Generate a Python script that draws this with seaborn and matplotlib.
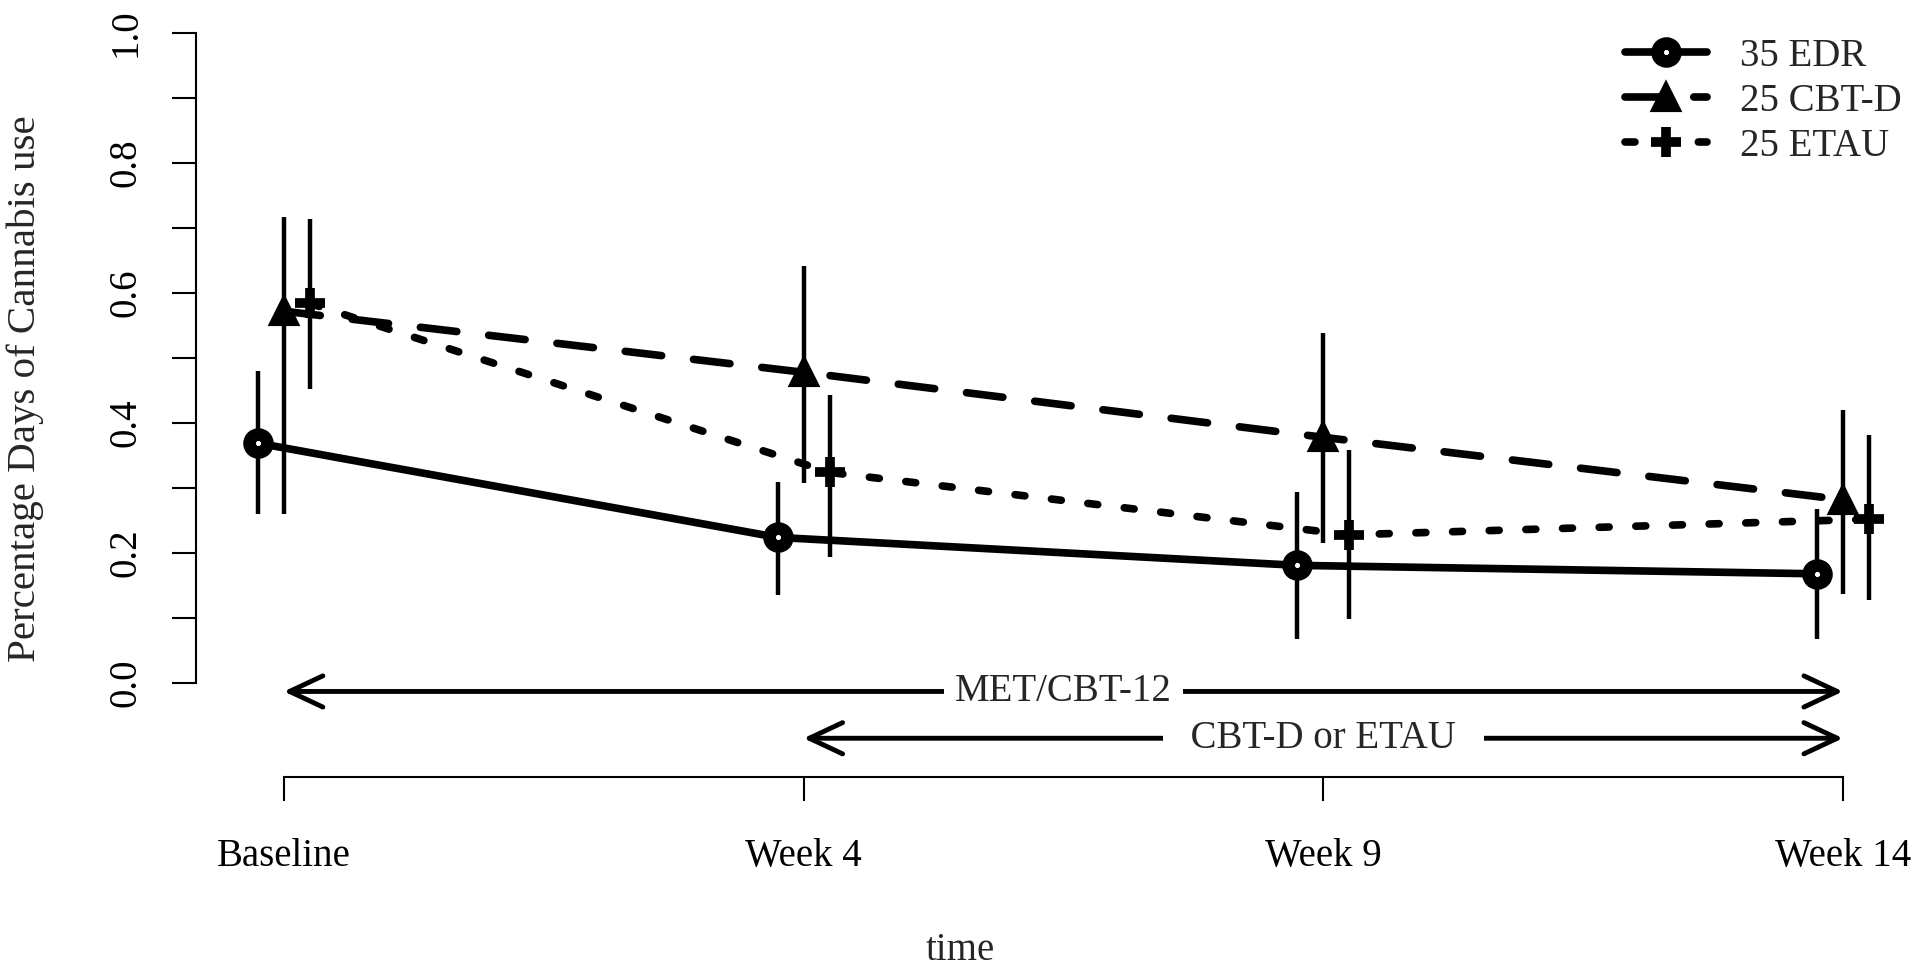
import numpy as np
import pandas as pd
import matplotlib
matplotlib.use("Agg")
import matplotlib.pyplot as plt
import seaborn as sns

# data
times = ["Baseline", "Week 4", "Week 9", "Week 14"]
groups = ["35 EDR", "25 CBT-D", "25 ETAU"]

edr_mean = [0.369, 0.224, 0.181, 0.168]
edr_lo = [0.260, 0.136, 0.068, 0.068]
edr_hi = [0.480, 0.310, 0.294, 0.267]

cbtd_mean = [0.572, 0.478, 0.378, 0.282]
cbtd_lo = [0.260, 0.307, 0.215, 0.137]
cbtd_hi = [0.717, 0.642, 0.539, 0.420]

etau_mean = [0.584, 0.324, 0.228, 0.252]
etau_lo = [0.452, 0.194, 0.098, 0.128]
etau_hi = [0.714, 0.443, 0.358, 0.382]

offsets = [-0.05, 0.0, 0.05]

rows = []
for g, m, lo, hi, off in zip(groups,
                             [edr_mean, cbtd_mean, etau_mean],
                             [edr_lo, cbtd_lo, etau_lo],
                             [edr_hi, cbtd_hi, etau_hi],
                             offsets):
    for i, t in enumerate(times):
        rows.append({"group": g, "time": t, "x": i + off,
                     "mean": m[i], "lo": lo[i], "hi": hi[i]})
df = pd.DataFrame(rows)

sns.set_style("ticks")
plt.rcParams["font.family"] = ["Liberation Serif", "DejaVu Serif"]

fig = plt.figure(figsize=(19.2, 9.73), dpi=100)
ax = fig.add_axes([0.10208, 0.19116, 0.8957, 0.80164])

styles = {
    "35 EDR": dict(linestyle="-", marker="o", markersize=13,
                   markeredgewidth=9, markerfacecolor="white"),
    "25 CBT-D": dict(linestyle=(0, (4.8, 4.2)), marker="^", markersize=19,
                     markeredgewidth=3, markerfacecolor="black"),
    "25 ETAU": dict(linestyle=(0, (1.3, 3.5)), marker="+", markersize=22,
                    markeredgewidth=7, markerfacecolor="black"),
}

for g in groups:
    sub = df[df["group"] == g]
    ax.vlines(sub["x"], sub["lo"], sub["hi"], color="black", lw=3.2)
    sns.lineplot(data=sub, x="x", y="mean", ax=ax, color="black", lw=5.5,
                 markeredgecolor="black", dash_capstyle="round",
                 solid_capstyle="round", label=g, **styles[g])

ax.set_xlim(-0.169, 3.14)
ax.set_ylim(-0.16, 1.04)

# R-style axes
sns.despine(ax=ax)
ax.spines["left"].set_bounds(0, 1)
ax.spines["bottom"].set_position(("data", -0.145))
ax.spines["bottom"].set_bounds(0, 3)
for s in ["left", "bottom"]:
    ax.spines[s].set_linewidth(1.5)
    ax.spines[s].set_color("black")

yt = np.round(np.arange(0, 1.01, 0.1), 1)
ax.set_yticks(yt)
ax.set_yticklabels([f"{v:.1f}" if i % 2 == 0 else "" for i, v in enumerate(yt)])
ax.set_xticks(range(len(times)))
ax.set_xticklabels(times)
ax.tick_params(axis="both", direction="out", length=17, width=1.5,
               color="black", labelsize=28, labelcolor="black",
               bottom=True, left=True)
ax.tick_params(axis="x", pad=27)
ax.tick_params(axis="y", pad=20, labelrotation=90)
for lab in ax.get_yticklabels():
    lab.set_va("center")
ax.set_xlabel("")
ax.set_ylabel("")

# treatment phase arrows
arrow_kw = dict(arrowstyle="<->,head_length=1.6,head_width=0.75", lw=3.5,
                color="black", mutation_scale=15, shrinkA=0, shrinkB=0)
ax.annotate("", xy=(3, -0.013), xytext=(0, -0.013), arrowprops=arrow_kw,
            annotation_clip=False)
ax.annotate("", xy=(3, -0.085), xytext=(1, -0.085), arrowprops=arrow_kw,
            annotation_clip=False)
ax.text(1.5, -0.013, "MET/CBT-12", fontsize=28, ha="center", va="center",
        bbox=dict(facecolor="white", edgecolor="none", pad=8))
ax.text(2.0, -0.085, "  CBT-D or ETAU  ", fontsize=28, ha="center", va="center",
        bbox=dict(facecolor="white", edgecolor="none", pad=6))

fig.text(0.013, 0.601, "Percentage Days of Cannabis use", fontsize=29.5,
         rotation=90, ha="center", va="center")
fig.text(0.5, 1 - 951 / 973, "time", fontsize=28, ha="center", va="center")

leg = ax.legend(loc="upper left", bbox_to_anchor=(1625 / 1920, 1 - 38 / 973),
                bbox_transform=fig.transFigure, frameon=False, fontsize=28,
                handlelength=2.1, handletextpad=0.85, labelspacing=0.2,
                borderpad=0, borderaxespad=0, numpoints=1)

fig.savefig("out.png", dpi=100, facecolor="white")
